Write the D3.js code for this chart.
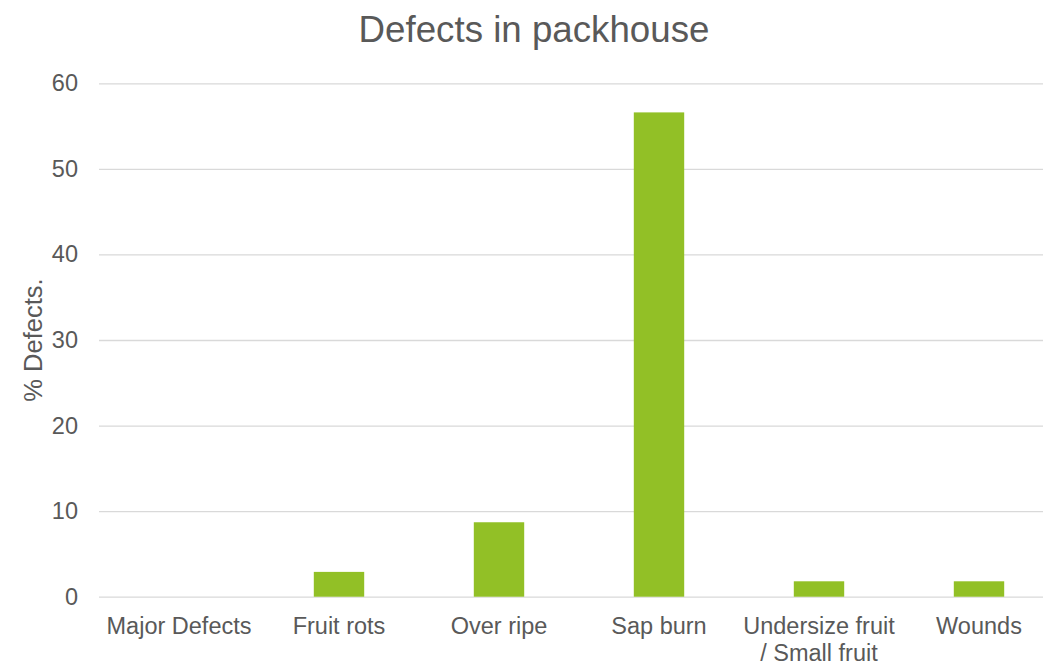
<!DOCTYPE html>
<html>
<head>
<meta charset="utf-8">
<script src="https://cdn.jsdelivr.net/npm/d3@7"></script>
<style>
  html, body { margin: 0; padding: 0; background: #ffffff; }
  svg { display: block; font-family: "Liberation Sans", Arial, sans-serif; }
</style>
</head>
<body>
<svg id="chart" width="1043" height="664"></svg>
<script>
// Chart data
const categories = ["Major Defects", "Fruit rots", "Over ripe", "Sap burn", "Undersize fruit / Small fruit", "Wounds"];
const defectPct = [0, 2.9, 8.7, 56.6, 1.8, 1.8];
const yTicks = [0, 10, 20, 30, 40, 50, 60];
const chartTitle = "Defects in packhouse";
const yTitle = "% Defects.";

const svg = d3.select("#chart");
const textColor = "#595959";
const gridColor = "#d9d9d9";
const barColor = "#92c026";

const plot = { left: 99, right: 1059, top: 83.3, bottom: 596.7 };

const x = d3.scaleBand()
  .domain(categories)
  .range([plot.left, plot.right])
  .paddingInner(0)
  .paddingOuter(0);

const barFrac = 0.315;

const y = d3.scaleLinear()
  .domain([0, 60])
  .range([plot.bottom, plot.top]);

// Gridlines and y tick labels
const yAxis = d3.axisLeft(y)
  .tickValues(yTicks)
  .tickSize(-(plot.right - plot.left))
  .tickPadding(21)
  .tickFormat(d3.format("d"));

const gy = svg.append("g")
  .attr("transform", `translate(${plot.left},0)`)
  .call(yAxis);
gy.select(".domain").remove();
gy.selectAll(".tick line").attr("stroke", gridColor).attr("stroke-width", 1.3);
gy.selectAll(".tick text")
  .attr("fill", textColor)
  .style("font-size", "23.5px");

// Bars
svg.append("g")
  .selectAll("rect")
  .data(categories.map((c, i) => ({ c, v: defectPct[i] })))
  .join("rect")
  .attr("x", d => x(d.c) + x.bandwidth() * (1 - barFrac) / 2)
  .attr("width", x.bandwidth() * barFrac)
  .attr("y", d => y(d.v))
  .attr("height", d => y(0) - y(d.v))
  .attr("fill", barColor);

// Category axis labels, wrapped to the band width
const labelY = 37;
const lineStep = 27.5;
const xAxis = d3.axisBottom(x).tickSize(0).tickPadding(0);
const gx = svg.append("g")
  .attr("transform", `translate(0,${plot.bottom})`)
  .call(xAxis);
gx.select(".domain").remove();
gx.selectAll(".tick text")
  .attr("fill", textColor)
  .style("font-size", "23.5px")
  .attr("dy", null)
  .attr("y", labelY)
  .each(function () {
    const t = d3.select(this);
    const words = t.text().split(/\s+/);
    t.text(null);
    const maxW = x.bandwidth();
    let line = [];
    let tspan = t.append("tspan").attr("x", 0).attr("y", labelY);
    let lineNo = 0;
    for (const w of words) {
      line.push(w);
      tspan.text(line.join(" "));
      if (tspan.node().getComputedTextLength() > maxW && line.length > 1) {
        line.pop();
        tspan.text(line.join(" "));
        line = [w];
        lineNo++;
        tspan = t.append("tspan").attr("x", 0).attr("y", labelY + lineNo * lineStep).text(w);
      }
    }
  });

// Title
svg.append("text")
  .attr("x", 534)
  .attr("y", 42)
  .attr("text-anchor", "middle")
  .attr("fill", textColor)
  .style("font-size", "36.7px")
  .text(chartTitle);

// Y axis title
svg.append("text")
  .attr("transform", `translate(42,${(plot.top + plot.bottom) / 2}) rotate(-90)`)
  .attr("text-anchor", "middle")
  .attr("fill", textColor)
  .style("font-size", "25.5px")
  .text(yTitle);
</script>
</body>
</html>
